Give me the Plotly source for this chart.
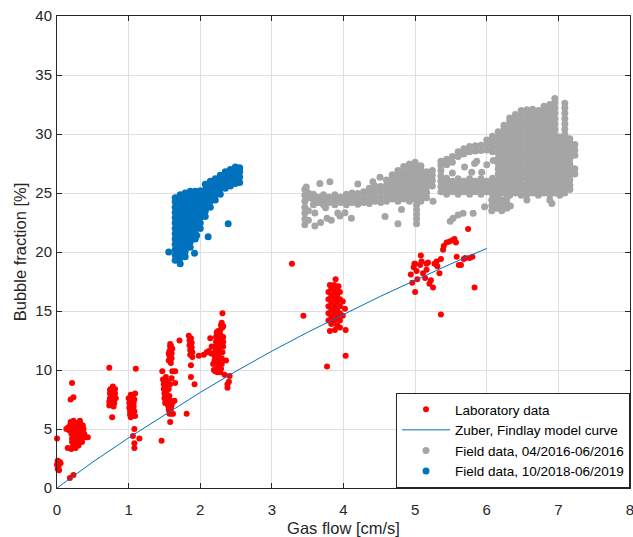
import plotly.graph_objects as go

# ---------------- data ----------------
# Laboratory data (red)
lab_points = [
    (0.00, 4.2), (0.00, 2.0), (0.01, 1.6), (0.01, 1.9), (0.02, 2.2), (0.04, 2.2), (0.05, 2.1),
    (0.02, 1.8), (0.03, 1.5), (0.01, 2.3),
    (0.18, 0.85), (0.23, 1.1), (0.21, 8.9), (0.19, 7.5), (0.23, 7.7),
    (0.13, 5.0), (0.15, 5.1), (0.17, 4.9), (0.18, 5.3), (0.19, 5.6), (0.20, 5.0), (0.20, 4.6),
    (0.21, 4.2), (0.21, 3.9), (0.22, 5.4), (0.23, 5.7), (0.24, 5.2), (0.24, 4.8), (0.24, 4.4),
    (0.25, 4.0), (0.25, 3.6), (0.26, 5.5), (0.27, 5.0), (0.27, 4.6), (0.28, 4.2), (0.28, 3.8),
    (0.29, 5.3), (0.30, 4.9), (0.31, 4.4), (0.31, 4.0), (0.32, 5.1), (0.33, 5.4), (0.34, 4.7),
    (0.35, 4.3), (0.35, 3.9), (0.37, 5.0), (0.38, 4.6), (0.40, 4.3), (0.43, 4.3), (0.15, 3.4),
    (0.20, 3.3), (0.26, 3.4), (0.32, 5.7), (0.36, 5.3), (0.30, 3.6), (0.22, 3.5),
    (0.73, 10.2), (0.77, 6.0), (0.73, 7.0), (0.73, 7.3), (0.74, 7.6), (0.74, 8.0), (0.74, 8.3),
    (0.76, 7.1), (0.77, 7.5), (0.77, 7.9), (0.78, 8.2), (0.78, 8.6), (0.80, 7.2), (0.80, 7.7),
    (0.81, 8.0), (0.81, 8.4), (0.79, 6.9), (0.75, 8.4), (0.82, 7.6),
    (1.10, 10.1), (1.08, 5.0), (1.06, 4.4), (1.08, 3.8), (1.08, 3.4), (1.15, 4.2), (1.00, 7.6),
    (1.01, 7.2), (1.01, 6.8), (1.02, 6.5), (1.02, 6.2), (1.03, 7.9), (1.04, 7.4), (1.04, 7.0),
    (1.05, 6.6), (1.05, 6.3), (1.06, 7.7), (1.07, 7.2), (1.07, 6.9), (1.08, 7.5), (1.08, 6.5),
    (1.09, 6.1), (1.09, 8.0), (1.03, 6.0),
    (1.46, 4.0), (1.47, 9.9), (1.58, 5.6), (1.57, 6.3), (1.60, 6.3), (1.62, 6.3), (1.56, 6.6),
    (1.48, 9.2), (1.49, 8.8), (1.49, 8.4), (1.50, 8.0), (1.50, 7.6), (1.51, 7.2), (1.52, 8.6),
    (1.53, 8.2), (1.53, 7.8), (1.54, 9.0), (1.55, 7.4), (1.55, 7.0), (1.52, 9.4), (1.50, 9.0),
    (1.56, 8.4), (1.57, 7.8), (1.58, 7.4), (1.60, 7.0), (1.59, 6.7), (1.61, 9.9), (1.65, 9.9),
    (1.65, 8.9), (1.60, 9.3), (1.62, 7.3), (1.64, 7.4), (1.58, 8.8),
    (1.56, 10.8), (1.57, 11.2), (1.57, 11.6), (1.58, 12.0), (1.58, 12.2), (1.59, 10.6),
    (1.60, 11.0), (1.60, 11.4), (1.61, 11.8), (1.56, 11.4), (1.59, 12.1),
    (1.71, 12.5), (1.81, 6.3), (1.87, 10.4), (1.87, 9.4), (1.92, 8.8),
    (1.84, 12.9), (1.85, 12.5), (1.85, 12.1), (1.86, 11.7), (1.86, 11.3), (1.87, 12.7),
    (1.88, 12.3), (1.88, 11.9), (1.89, 11.5), (1.89, 11.1),
    (2.31, 14.8), (1.98, 11.2), (2.05, 11.3), (2.09, 11.5), (2.12, 11.6), (2.15, 11.4),
    (2.16, 12.0), (2.14, 12.7), (2.18, 10.5), (2.19, 10.0), (2.20, 10.8), (2.20, 11.2),
    (2.21, 11.6), (2.21, 12.0), (2.22, 12.4), (2.22, 12.8), (2.23, 13.2), (2.24, 10.2),
    (2.24, 9.8), (2.25, 10.6), (2.25, 11.0), (2.26, 11.4), (2.26, 11.8), (2.27, 12.2),
    (2.27, 12.6), (2.28, 13.0), (2.28, 13.4), (2.29, 13.8), (2.30, 14.0), (2.31, 13.6),
    (2.32, 13.7), (2.32, 12.8), (2.32, 12.4), (2.32, 12.0), (2.31, 11.5), (2.30, 11.0),
    (2.30, 10.5), (2.29, 10.1), (2.28, 9.8), (2.36, 10.8), (2.34, 9.6), (2.41, 9.5),
    (2.38, 8.8), (2.38, 8.5), (2.40, 9.0), (2.21, 9.9), (2.23, 12.9), (2.25, 13.3),
    (3.28, 19.0), (3.44, 14.6),
    (3.89, 17.7), (3.81, 17.2), (3.93, 17.1),
    (3.79, 14.2), (3.79, 14.8), (3.79, 15.4), (3.79, 16.0), (3.79, 16.6),
    (3.83, 13.9), (3.83, 14.5), (3.83, 15.1), (3.83, 15.7), (3.83, 16.3), (3.83, 16.9),
    (3.87, 14.2), (3.87, 14.8), (3.87, 15.4), (3.87, 16.0), (3.87, 16.6), (3.87, 17.2),
    (3.91, 13.8), (3.91, 14.5), (3.91, 15.1), (3.91, 15.7), (3.91, 16.3), (3.91, 16.9),
    (3.95, 14.2), (3.95, 14.8), (3.95, 15.4), (3.95, 16.0), (3.95, 16.6),
    (3.81, 13.3), (3.88, 13.4), (3.95, 13.6), (4.03, 13.4), (4.02, 15.2), (3.99, 14.6),
    (3.99, 15.8), (3.77, 10.3), (4.03, 11.2),
    (5.08, 19.7), (4.99, 19.0), (5.02, 18.4), (4.96, 17.4), (5.00, 16.6), (5.07, 18.9),
    (5.11, 18.2), (5.16, 18.5), (5.18, 19.1), (5.20, 17.3), (5.25, 17.0), (5.22, 17.6),
    (5.27, 19.0), (5.31, 18.8), (5.34, 18.2), (5.36, 19.4), (5.39, 20.2), (5.14, 17.8),
    (4.94, 18.1), (5.03, 17.7), (5.00, 19.0), (5.09, 19.2), (5.30, 19.2), (5.16, 19.0),
    (4.98, 18.7),
    (5.36, 14.7), (5.83, 17.0),
    (5.74, 21.95), (5.52, 21.0), (5.44, 20.8), (5.40, 20.5), (5.57, 20.8), (5.58, 19.6),
    (5.61, 18.9), (5.70, 19.5), (5.68, 19.4), (5.64, 18.9), (5.76, 19.5), (5.80, 19.6),
    (5.48, 20.9), (5.55, 21.1),
]

# Zuber, Findlay model curve
model_x = [0, 0.5, 1, 1.5, 2, 2.5, 3, 3.5, 4, 4.5, 5, 5.5, 6]
model_y = [0, 2.2, 4.25, 6.2, 8.1, 9.9, 11.6, 13.2, 14.7, 16.2, 17.6, 19.0, 20.3]

# Field data 04/2016-06/2016 (grey): dense cloud read column by column
gray_columns = [
    (3.46, [22.3, 22.8, 23.3, 23.8, 24.3, 24.8, 25.3]),
    (3.51, [22.7, 23.5, 24.6, 25.0]),
    (3.58, [24.0, 24.45, 24.9]),
    (3.65, [24.2, 24.65]),
    (3.72, [24.0, 24.45, 24.85]),
    (3.80, [24.2, 24.65]),
    (3.88, [24.0, 24.45, 24.85]),
    (3.96, [24.2, 24.65]),
    (4.04, [24.0, 24.45, 24.9]),
    (4.12, [24.2, 24.65, 25.0]),
    (4.20, [24.05, 24.5, 24.95]),
    (4.28, [24.2, 24.65, 25.1]),
    (4.36, [24.1, 24.55, 25.0, 25.4]),
    (4.44, [24.3, 24.75, 25.2, 25.6]),
    (4.52, [24.2, 24.65, 25.1, 25.55]),
    (4.60, [24.3, 24.75, 25.2, 25.65, 26.1]),
    (4.68, [24.5, 24.95, 25.4, 25.85, 26.3, 26.55]),
    (4.76, [24.3, 24.75, 25.2, 25.65, 26.1, 26.55, 26.9]),
    (4.84, [24.5, 24.95, 25.4, 25.85, 26.3, 26.75, 27.25]),
    (4.92, [24.3, 24.75, 25.2, 25.65, 26.1, 26.55, 27.0, 27.45]),
    (5.00, [24.5, 24.95, 25.4, 25.85, 26.3, 26.75, 27.2, 27.6]),
    (5.02, [22.4, 22.8, 23.2, 23.6, 24.0]),
    (5.08, [24.3, 24.75, 25.2, 25.65, 26.1, 26.55, 27.0, 27.3]),
    (5.16, [24.6, 25.05, 25.5, 25.95, 26.4, 26.8]),
    (5.24, [25.6, 26.05, 26.5, 26.9]),
    (5.36, [25.1, 25.55, 26.0, 26.45, 26.9, 27.35, 27.7]),
    (5.44, [24.9, 25.35, 25.8, 26.25, 27.4, 27.85]),
    (5.52, [25.1, 25.55, 26.0, 26.7, 27.6, 28.1]),
    (5.60, [24.9, 25.35, 25.8, 26.2, 28.1, 28.5]),
    (5.68, [25.1, 25.55, 26.0, 28.3, 28.75]),
    (5.76, [24.9, 25.35, 25.8, 26.2, 28.5, 28.95]),
    (5.84, [25.1, 25.55, 26.0, 28.55, 29.0]),
    (5.92, [24.9, 25.35, 25.8, 26.2, 28.6, 29.05]),
    (6.00, [25.1, 25.55, 26.0, 28.65, 29.1, 29.5]),
    (6.08, [24.9, 25.35, 25.8, 26.25, 28.5, 28.95, 29.4, 29.8]),
    (6.16, [24.8, 25.25, 25.7, 26.15, 26.6, 27.05, 27.5, 27.95, 28.4, 28.85, 29.3, 29.75, 30.2]),
    (6.24, [25.0, 25.45, 25.9, 26.35, 26.8, 27.25, 27.7, 28.15, 28.6, 29.05, 29.5, 29.95, 30.4, 30.75]),
    (6.32, [24.8, 25.25, 25.7, 26.15, 26.6, 27.05, 27.5, 27.95, 28.4, 28.85, 29.3, 29.75, 30.2, 30.65, 31.1, 31.35]),
    (6.40, [25.0, 25.45, 25.9, 26.35, 26.8, 27.25, 27.7, 28.15, 28.6, 29.05, 29.5, 29.95, 30.4, 30.85, 31.3, 31.65]),
    (6.48, [24.8, 25.25, 25.7, 26.15, 26.6, 27.05, 27.5, 27.95, 28.4, 28.85, 29.3, 29.75, 30.2, 30.65, 31.1, 31.55, 32.0]),
    (6.56, [24.4, 24.85, 25.3, 25.75, 26.2, 26.65, 27.1, 27.55, 28.0, 28.45, 28.9, 29.35, 29.8, 30.25, 30.7, 31.15, 31.6, 32.05]),
    (6.64, [25.0, 25.45, 25.9, 26.35, 26.8, 27.25, 27.7, 28.15, 28.6, 29.05, 29.5, 29.95, 30.4, 30.85, 31.3, 31.75, 32.1]),
    (6.72, [24.8, 25.25, 25.7, 26.15, 26.6, 27.05, 27.5, 27.95, 28.4, 28.85, 29.3, 29.75, 30.2, 30.65, 31.1, 31.55, 32.0]),
    (6.80, [25.0, 25.45, 25.9, 26.35, 26.8, 27.25, 27.7, 28.15, 28.6, 29.05, 29.5, 29.95, 30.4, 30.85, 31.3, 31.75, 32.2, 32.35]),
    (6.88, [24.4, 24.85, 25.3, 25.75, 26.2, 26.65, 27.1, 27.55, 28.0, 28.45, 28.9, 29.35, 29.8, 30.25, 30.7, 31.15, 31.6, 32.05, 32.5]),
    (6.95, [25.0, 25.45, 25.9, 26.35, 26.8, 27.25, 27.7, 28.15, 28.6, 29.05, 29.5, 29.95, 30.4, 30.85, 31.3, 31.75, 32.2, 32.65, 33.0]),
    (7.02, [24.8, 25.25, 25.7, 26.15, 26.6, 27.05, 27.5, 27.95, 28.4, 28.85, 29.3, 29.75]),
    (7.09, [25.0, 25.45, 25.9, 26.35, 26.8, 27.25, 27.7, 28.15, 28.6, 29.05, 29.5, 29.95, 30.4, 30.85, 31.3, 31.75, 32.2, 32.6]),
    (7.16, [25.3, 25.65, 26.1, 26.55, 27.0, 27.45, 27.9, 28.35, 28.8, 29.25, 29.6]),
    (7.23, [26.6, 27.05, 28.2, 28.65, 29.1]),
]
gray_scatter = [
    (3.60, 23.3), (3.60, 22.2), (3.68, 22.5), (3.75, 23.75), (3.77, 22.85), (3.83, 22.7),
    (3.95, 23.05), (4.02, 23.33), (4.11, 22.85), (4.58, 23.0), (4.76, 22.4), (5.25, 24.3),
    (3.48, 25.5), (3.67, 25.8), (3.81, 25.96), (4.20, 25.76), (4.41, 25.96), (4.51, 26.33),
    (3.92, 23.3), (4.81, 23.6),
    (5.69, 27.2), (5.86, 27.7), (5.79, 26.75), (5.93, 26.75), (6.00, 27.4), (6.09, 27.75),
    (5.83, 27.5),
    (6.07, 23.5), (6.07, 23.95), (6.07, 24.4), (6.14, 23.7), (6.14, 24.15), (6.14, 24.55),
    (6.21, 23.5), (6.21, 23.95), (6.21, 24.4), (6.28, 23.7), (6.28, 24.15), (6.28, 24.55),
    (6.33, 23.9), (5.97, 23.84), (5.81, 23.28), (5.67, 23.28), (5.60, 23.14), (5.53, 22.87),
    (5.49, 22.6), (6.91, 24.1),
]

# Field data 10/2018-06/2019 (blue)
blue_columns = [
    (1.65, [19.3, 19.75, 20.2, 20.65, 21.1, 21.55, 22.0, 22.45, 22.9, 23.35, 23.8, 24.25, 24.6]),
    (1.72, [19.0, 19.5, 19.95, 20.4, 20.85, 21.3, 21.75, 22.2, 22.65, 23.1, 23.55, 24.0, 24.45, 24.85]),
    (1.79, [19.6, 20.05, 20.5, 20.95, 21.4, 21.85, 22.3, 22.75, 23.2, 23.65, 24.1, 24.55, 25.0]),
    (1.86, [20.4, 20.85, 21.3, 21.75, 22.2, 22.65, 23.1, 23.55, 24.0, 24.45, 24.9, 25.15]),
    (1.93, [21.1, 21.55, 22.0, 22.45, 22.9, 23.35, 23.8, 24.25, 24.7, 25.15]),
    (2.00, [22.0, 22.45, 22.9, 23.35, 23.8, 24.25, 24.7, 25.2]),
    (2.07, [23.0, 23.45, 23.9, 24.35, 24.8, 25.25, 25.75]),
    (2.14, [23.8, 24.25, 24.7, 25.15, 25.6, 26.0]),
    (2.21, [24.4, 24.85, 25.3, 25.75, 26.2]),
    (2.28, [24.9, 25.35, 25.8, 26.25, 26.5]),
    (2.35, [25.4, 25.85, 26.3, 26.8]),
    (2.42, [25.6, 26.05, 26.5, 27.0]),
    (2.49, [25.8, 26.25, 26.7, 27.2]),
    (2.55, [25.9, 26.35, 26.8, 27.15]),
]
blue_scatter = [(2.39, 22.4), (2.11, 21.3), (1.95, 21.4), (1.56, 20.0), (1.92, 19.9)]

x_ticks = [0, 1, 2, 3, 4, 5, 6, 7, 8]
y_ticks = [0, 5, 10, 15, 20, 25, 30, 35, 40]


def flatten(columns, scatter):
    xs, ys = [], []
    for cx, cys in columns:
        for cy in cys:
            xs.append(cx)
            ys.append(cy)
    for px, py in scatter:
        xs.append(px)
        ys.append(py)
    return xs, ys


lab_x = [p[0] for p in lab_points]
lab_y = [p[1] for p in lab_points]
gray_x, gray_y = flatten(gray_columns, gray_scatter)
blue_x, blue_y = flatten(blue_columns, blue_scatter)

# ---------------- figure ----------------
FONT = "Liberation Sans, Arial, Helvetica, sans-serif"
AXC = "#262626"
GRID = "#DFDFDF"

fig = go.Figure()
fig.add_trace(go.Scatter(x=lab_x, y=lab_y, mode="markers", name="Laboratory data",
                         marker=dict(color="#FF0000", size=6), cliponaxis=False))
fig.add_trace(go.Scatter(x=model_x, y=model_y, mode="lines", name="Zuber, Findlay model curve",
                         line=dict(color="#0072BD", width=1)))
fig.add_trace(go.Scatter(x=gray_x, y=gray_y, mode="markers", name="Field data, 04/2016-06/2016",
                         marker=dict(color="#A5A5A5", size=7)))
fig.add_trace(go.Scatter(x=blue_x, y=blue_y, mode="markers", name="Field data, 10/2018-06/2019",
                         marker=dict(color="#0072BD", size=7)))

axis_common = dict(
    showgrid=True, gridcolor=GRID, gridwidth=1,
    showline=True, linecolor=AXC, linewidth=1, mirror="ticks",
    ticks="inside", ticklen=5, tickcolor=AXC, tickwidth=1,
    zeroline=False, tickfont=dict(family=FONT, size=15, color=AXC),
    ticklabeloverflow="allow", automargin=False,
)

fig.update_layout(
    width=633, height=537,
    margin=dict(l=57, r=3, t=16, b=49, autoexpand=False),
    paper_bgcolor="white", plot_bgcolor="white",
    font=dict(family=FONT, color=AXC),
    xaxis=dict(range=[0, 8], tickvals=x_ticks, ticktext=[str(v) for v in x_ticks],
               ticklabelstandoff=8,
               title=dict(text="Gas flow [cm/s]", font=dict(family=FONT, size=16.5, color=AXC), standoff=6),
               **axis_common),
    yaxis=dict(range=[0, 40], tickvals=y_ticks, ticktext=[str(v) for v in y_ticks],
               ticklabelstandoff=1,
               title=dict(text="Bubble fraction [%]", font=dict(family=FONT, size=16.5, color=AXC), standoff=4),
               **axis_common),
    legend=dict(x=1, y=0, xanchor="right", yanchor="bottom",
                bgcolor="white", bordercolor=AXC, borderwidth=1,
                font=dict(family=FONT, size=13.5, color="#000000"),
                itemwidth=48, tracegroupgap=0),
    showlegend=True,
)

fig.write_html("out.html", config={"displayModeBar": False},
               post_script="document.body.style.margin='0px';document.body.style.overflow='hidden';")
